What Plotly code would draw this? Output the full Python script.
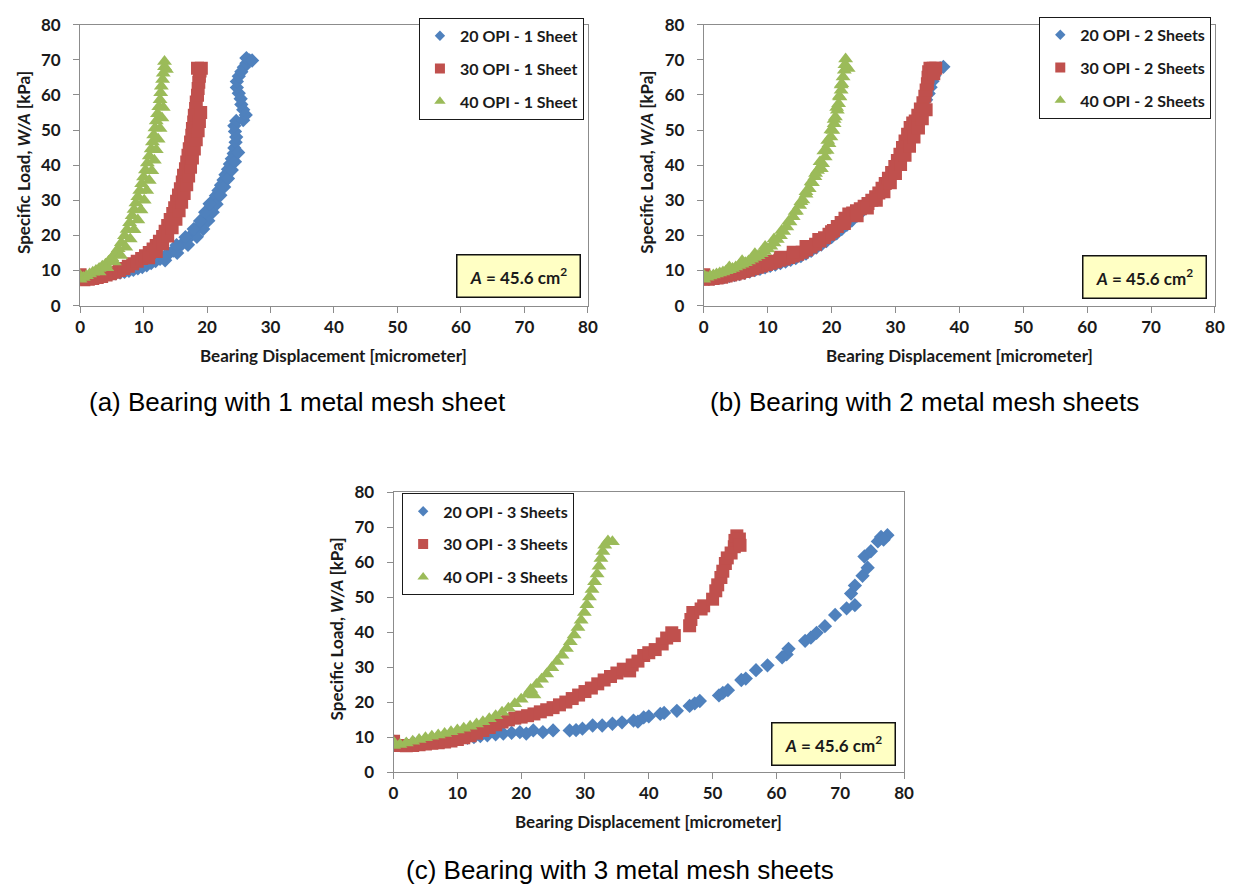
import plotly.graph_objects as go

W, H = 1244, 895

# Load curves: (bearing displacement [um], specific load W/A [kPa])
one_sheet_20 = [
    (0.0, 7.9), (0.7, 8.0), (1.4, 8.1), (2.1, 8.2), (2.8, 8.4), (3.5, 8.6), (4.2, 8.8), (4.9, 9.0),
    (5.6, 9.2), (6.3, 9.4), (7.0, 9.6), (7.7, 9.9), (8.4, 10.2), (9.1, 10.6), (9.8, 11.0), (10.5, 11.5),
    (11.2, 12.1), (11.9, 12.7), (12.6, 13.3), (13.3, 14.0), (14.0, 14.8), (14.7, 15.7), (15.4, 16.6),
    (16.1, 17.6), (16.8, 18.7), (17.4, 19.8), (18.0, 20.9), (18.6, 22.0), (19.1, 23.1), (19.5, 24.4),
    (19.9, 25.7), (20.3, 27.0), (20.7, 28.4), (21.0, 29.8), (21.4, 31.3), (21.8, 32.8), (22.2, 34.3),
    (22.6, 35.8), (22.9, 37.3), (23.3, 38.8), (23.6, 40.3), (23.9, 41.8), (24.2, 43.3), (24.3, 44.9),
    (24.5, 46.5), (24.6, 48.0), (24.4, 49.6), (24.3, 51.2), (24.6, 52.6), (25.7, 52.8), (26.1, 54.3),
    (25.7, 55.8), (25.4, 57.3), (25.3, 58.9), (25.0, 60.5), (24.7, 62.1), (24.7, 63.8), (25.0, 65.3),
    (25.4, 66.6), (25.8, 67.9), (26.2, 69.0), (26.7, 69.8), (26.2, 70.5), (27.1, 69.8),
    (13.4, 12.9), (15.3, 15.0), (17.0, 17.3), (18.4, 19.6), (19.4, 21.8), (20.2, 24.2), (20.9, 26.6),
    (21.5, 28.9), (22.1, 31.4), (22.7, 33.8), (23.3, 36.2), (23.9, 38.6), (24.4, 41.0), (24.9, 43.6),
    (15.2, 17.2), (16.6, 19.5), (17.9, 21.8), (18.9, 24.1), (19.7, 26.6), (20.4, 29.0),
]
one_sheet_30 = [
    (0.0, 7.6), (0.0, 8.8), (0.6, 7.4), (1.3, 7.5), (2.0, 7.7), (2.7, 8.0), (3.4, 8.3), (4.1, 8.7),
    (4.8, 9.1), (5.5, 9.5), (6.2, 10.0), (6.9, 10.6), (7.6, 11.2), (8.3, 11.9), (9.0, 12.6), (9.7, 13.4),
    (10.3, 14.2), (10.9, 15.1), (11.5, 16.1), (12.0, 17.1), (12.5, 18.3), (13.0, 19.7), (13.4, 21.2),
    (13.8, 22.8), (14.2, 24.5), (14.6, 26.2), (14.9, 27.9), (15.2, 29.7), (15.5, 31.5), (15.8, 33.3),
    (16.1, 35.2), (16.3, 37.1), (16.6, 39.0), (16.8, 40.9), (17.0, 42.8), (17.2, 44.7), (17.4, 46.6),
    (17.6, 48.5), (17.7, 50.4), (17.9, 52.3), (18.0, 54.2), (18.2, 56.1), (18.3, 58.0), (18.5, 59.9),
    (18.6, 61.8), (18.7, 63.6), (18.8, 65.3), (18.9, 66.8), (18.5, 67.6), (19.1, 67.6),
    (10.8, 13.6), (12.0, 15.4), (13.0, 17.6), (13.8, 19.8), (14.5, 22.2), (15.1, 24.6), (15.6, 27.0),
    (16.0, 29.4), (16.4, 31.9), (16.8, 34.4), (17.1, 36.9), (17.4, 39.4), (17.7, 42.0), (18.0, 44.6),
    (18.3, 47.2), (18.6, 49.8), (18.8, 52.4), (19.0, 55.0),
]
one_sheet_40 = [
    (0.0, 7.5), (0.0, 8.6), (0.5, 8.0), (1.0, 8.5), (1.5, 9.0), (2.0, 9.5), (2.5, 10.0), (3.0, 10.6),
    (3.5, 11.2), (4.0, 11.8), (4.5, 12.6), (5.0, 13.6), (5.5, 14.8), (6.0, 16.2), (6.5, 17.9), (7.0, 19.9),
    (7.4, 21.7), (7.8, 23.6), (8.2, 25.6), (8.5, 27.4), (8.8, 29.2), (9.1, 31.0), (9.4, 32.8), (9.7, 34.7),
    (10.0, 36.6), (10.3, 38.6), (10.6, 40.6), (10.9, 42.6), (11.2, 44.6), (11.4, 46.6), (11.6, 48.6),
    (11.8, 50.6), (12.0, 52.6), (12.2, 54.6), (12.4, 56.6), (12.6, 58.6), (12.7, 60.6), (12.8, 62.5),
    (13.0, 64.4), (13.1, 66.2), (13.3, 68.0), (13.3, 69.5), (13.6, 67.2),
    (3.0, 9.6), (4.2, 10.8), (5.4, 12.4), (6.4, 14.3), (7.2, 16.6), (7.9, 19.0), (8.5, 21.6), (9.1, 24.4),
    (9.6, 27.2), (10.1, 30.0), (10.5, 32.8), (10.9, 35.6), (11.3, 38.4), (11.7, 41.4), (12.0, 44.4),
    (12.3, 47.4), (12.6, 50.4), (12.9, 53.4), (13.1, 56.4),
]

two_sheets_20 = [
    (0.0, 7.7), (0.8, 7.6), (1.6, 7.7), (2.4, 7.9), (3.2, 8.1), (4.0, 8.4), (4.8, 8.7), (5.6, 9.0),
    (6.4, 9.3), (7.2, 9.7), (8.0, 10.1), (8.8, 10.5), (9.6, 10.9), (10.4, 11.3), (11.2, 11.7), (12.0, 12.1),
    (12.8, 12.5), (13.6, 13.0), (14.4, 13.5), (15.2, 14.1), (16.0, 14.8), (16.8, 15.6), (17.6, 16.5),
    (18.4, 17.4), (19.2, 18.4), (20.0, 19.5), (20.8, 20.6), (21.6, 21.8), (22.4, 23.0), (23.2, 24.3),
    (24.0, 25.6), (24.8, 26.9), (25.6, 28.2), (26.4, 29.6), (27.1, 31.0), (27.8, 32.5), (28.4, 34.0),
    (29.0, 35.6), (29.6, 37.2), (30.2, 38.9), (30.7, 40.6), (31.2, 42.4), (31.6, 44.2), (32.0, 46.0),
    (32.4, 47.8), (32.8, 49.6), (33.2, 51.4), (33.6, 53.2), (34.0, 55.0), (34.4, 56.8), (34.8, 58.6),
    (35.2, 60.4), (35.5, 62.2), (35.8, 63.9), (36.1, 65.5), (36.5, 66.8), (37.0, 67.6), (37.5, 68.0),
]
two_sheets_30 = [
    (0.0, 7.6), (0.0, 8.8), (0.7, 7.5), (1.4, 7.7), (2.1, 7.9), (2.8, 8.1), (3.5, 8.4), (4.2, 8.7),
    (4.9, 9.0), (5.6, 9.3), (6.3, 9.7), (7.0, 10.1), (7.7, 10.5), (8.4, 10.9), (9.1, 11.3), (9.8, 11.7),
    (10.5, 12.1), (11.2, 12.5), (11.9, 12.9), (12.6, 13.3), (13.3, 13.7), (14.0, 14.1), (14.7, 14.6),
    (15.4, 15.2), (16.1, 15.9), (16.8, 16.7), (17.5, 17.5), (18.2, 18.4), (18.9, 19.3), (19.6, 20.3),
    (20.3, 21.4), (20.9, 22.5), (21.5, 23.7), (22.1, 24.9), (22.7, 26.1), (23.3, 26.4), (23.9, 27.0),
    (24.5, 27.6), (25.1, 28.3), (25.7, 29.1), (26.3, 30.0), (26.9, 31.0), (27.4, 32.1), (27.9, 33.4),
    (28.4, 34.8), (28.9, 36.3), (29.4, 37.9), (29.9, 39.6), (30.3, 41.3), (30.7, 43.1), (31.1, 45.0),
    (31.5, 46.9), (31.9, 48.8), (32.3, 50.7), (32.7, 52.0), (33.1, 52.6), (33.5, 54.2), (33.9, 56.0),
    (34.3, 57.8), (34.6, 59.6), (34.8, 61.4), (35.0, 63.2), (35.1, 65.0), (35.2, 66.6), (35.4, 67.6),
    (35.9, 67.6), (36.3, 67.6), (36.0, 66.0),
    (8.0, 11.4), (10.0, 12.6), (12.0, 13.8), (14.0, 15.2), (16.0, 16.8), (18.0, 18.8), (20.0, 21.0),
    (22.0, 23.4), (24.0, 25.6), (25.6, 27.8), (27.0, 30.0), (28.2, 32.4), (29.2, 35.0), (30.0, 37.6),
    (30.8, 40.2), (31.5, 42.8), (32.2, 45.4), (32.9, 48.0), (33.6, 50.6), (34.2, 53.2), (34.8, 55.8),
]
two_sheets_40 = [
    (0.0, 7.5), (0.0, 8.7), (0.5, 8.1), (1.0, 8.4), (1.5, 8.7), (2.0, 9.0), (2.5, 9.3), (3.0, 9.6),
    (3.5, 9.9), (4.0, 10.2), (4.5, 10.6), (5.0, 11.0), (5.5, 11.4), (6.0, 11.8), (6.5, 12.2), (7.0, 12.7),
    (7.5, 13.2), (8.0, 13.7), (8.5, 14.2), (9.0, 14.8), (9.5, 15.4), (10.0, 16.1), (10.5, 16.9),
    (11.0, 17.8), (11.5, 18.8), (12.0, 19.9), (12.5, 21.1), (13.0, 22.4), (13.5, 23.8), (14.0, 25.3),
    (14.5, 26.9), (15.0, 28.5), (15.5, 30.1), (16.0, 31.7), (16.5, 33.3), (17.0, 35.0), (17.4, 36.7),
    (17.8, 38.5), (18.4, 39.0), (18.6, 40.4), (19.0, 42.3), (19.3, 44.2), (19.6, 46.1), (19.9, 48.0),
    (20.2, 49.9), (20.4, 51.8), (20.6, 53.7), (20.9, 55.6), (21.1, 57.5), (21.3, 59.4), (21.5, 61.3),
    (21.6, 63.2), (21.8, 65.1), (22.0, 67.0), (22.1, 68.6), (22.2, 70.2), (22.6, 67.5),
    (4.0, 11.0), (6.0, 12.8), (8.0, 14.8), (9.6, 16.8), (11.0, 19.0), (12.2, 21.4), (13.3, 24.0),
    (14.3, 26.8), (15.2, 29.6), (16.0, 32.4), (16.8, 35.2), (17.5, 37.6), (18.2, 41.0), (18.8, 44.0),
    (19.4, 47.0), (19.9, 50.0), (20.4, 53.0), (20.8, 56.4), (21.2, 59.6), (21.5, 62.8),
]

three_sheets_20 = [
    (0.0, 7.6), (0.0, 8.8), (0.7, 7.7), (2.0, 7.9), (3.2, 8.1), (4.3, 8.2), (5.5, 8.4), (6.7, 8.6),
    (7.9, 8.7), (9.2, 9.2), (10.5, 9.6), (11.6, 9.8), (12.6, 10.0), (13.6, 10.3), (14.7, 10.5),
    (16.0, 10.8), (17.2, 11.0), (18.5, 11.2), (19.8, 11.4), (20.8, 11.0), (21.9, 11.9), (23.4, 11.4),
    (25.0, 11.9), (27.6, 11.9), (28.6, 12.0), (29.6, 12.4), (31.2, 13.3), (32.7, 13.3), (34.3, 13.8),
    (35.8, 14.2), (37.6, 14.7), (38.3, 14.4), (39.2, 15.6), (40.0, 15.9), (41.8, 16.6), (42.4, 16.9),
    (44.4, 17.5), (46.4, 18.9), (47.2, 19.6), (48.0, 20.3), (51.0, 21.9), (51.6, 22.6), (52.4, 23.4),
    (54.5, 26.3), (55.2, 26.7), (56.8, 29.1), (58.6, 30.5), (60.9, 32.8), (61.6, 33.6), (61.9, 35.2),
    (64.5, 37.5), (65.4, 38.4), (66.3, 39.8), (67.6, 41.7), (69.2, 44.9), (71.0, 46.8), (72.3, 47.7),
    (71.7, 51.0), (72.3, 53.3), (73.5, 56.1), (74.3, 58.4), (73.8, 61.6), (74.8, 63.1), (75.9, 65.9),
    (76.4, 67.2), (77.4, 67.7), (76.8, 66.4),
]
three_sheets_30 = [
    (0.0, 7.6), (0.0, 8.8), (1.0, 7.6), (2.0, 7.5), (3.0, 7.6), (4.0, 7.8), (5.0, 8.0), (6.0, 8.2),
    (7.0, 8.4), (8.0, 8.6), (9.0, 8.9), (10.0, 9.3), (11.0, 9.8), (12.0, 10.4), (13.0, 11.1),
    (14.0, 11.9), (15.0, 12.7), (16.0, 13.5), (17.0, 14.3), (18.0, 14.9), (19.0, 15.4), (20.0, 15.7),
    (21.0, 16.1), (22.0, 16.6), (23.0, 17.2), (24.0, 17.8), (25.0, 18.4), (26.0, 19.2), (27.0, 20.0),
    (28.0, 21.0), (29.0, 22.0), (30.0, 23.0), (31.0, 24.0), (32.0, 25.2), (33.0, 26.3), (34.0, 27.3),
    (35.0, 28.3), (36.0, 29.4), (37.0, 28.9), (37.4, 30.6), (38.3, 31.7), (39.2, 33.3), (40.0, 34.1),
    (41.0, 35.0), (42.1, 36.6), (42.8, 38.3), (43.6, 39.8), (44.0, 39.0), (46.4, 41.8), (46.6, 43.6),
    (46.9, 45.6), (48.2, 46.6), (48.6, 47.5), (50.0, 49.4), (50.5, 51.8), (50.8, 53.5), (51.3, 55.6),
    (51.6, 57.4), (52.0, 59.6), (52.3, 61.2), (52.9, 62.6), (53.4, 64.4), (53.5, 66.2), (53.8, 67.5),
    (54.2, 66.6), (54.3, 64.8),
]
three_sheets_40 = [
    (0.0, 7.6), (0.0, 8.6), (1.0, 7.9), (2.0, 8.3), (3.0, 8.8), (4.0, 9.3), (5.0, 9.8), (6.0, 10.2),
    (7.0, 10.6), (8.0, 11.0), (9.0, 11.5), (10.0, 12.0), (11.0, 12.5), (12.0, 13.1), (13.0, 13.7),
    (14.0, 14.4), (15.0, 15.2), (16.0, 16.1), (17.0, 17.1), (18.0, 18.2), (19.0, 19.5), (20.0, 20.8),
    (21.0, 22.2), (22.0, 22.0), (21.5, 23.6), (22.4, 25.0), (23.2, 26.5), (24.0, 28.0), (24.8, 29.8),
    (25.6, 31.6), (26.4, 33.4), (27.1, 35.3), (27.7, 37.2), (28.3, 39.2), (28.9, 41.3), (29.4, 43.4),
    (29.9, 45.6), (30.3, 47.8), (30.7, 50.0), (31.1, 52.2), (31.5, 54.4), (31.9, 56.6), (32.2, 58.8),
    (32.5, 61.0), (32.8, 63.0), (33.1, 64.8), (33.6, 66.0), (34.3, 65.8),
]

opi_labels = ["20 OPI", "30 OPI", "40 OPI"]
axis_ticks = [0, 10, 20, 30, 40, 50, 60, 70, 80]
area_text = "<i>A</i> = 45.6 cm<sup>2</sup>"

COLORS = ["#4F81BD", "#C0504D", "#9BBB59"]
SYMBOLS = ["diamond", "square", "triangle-up"]
LEGEND_SIZES = [8, 10, 10]
FONT = "Lato"
INK = "#1a1a1a"
AXIS_GRAY = "#8C8C8C"


def fx(px):
    return px / W


def fy(py):
    return 1 - py / H


# plot areas in pixels: left, right, top, bottom
panels = [
    dict(series=[one_sheet_20, one_sheet_30, one_sheet_40], suffix="1 Sheet", sizes=[11, 13, 13],
         box=(76, 590, 14, 301.7), legend=dict(x=586, y=7, xanchor="right"),
         note=(520, 271.5), caption="(a) Bearing with 1 metal mesh sheet", cap_xy=(296, 400)),
    dict(series=[two_sheets_20, two_sheets_30, two_sheets_40], suffix="2 Sheets", sizes=[11, 13, 13],
         box=(707.3, 1224.7, 14, 301.7), legend=dict(x=1221, y=6, xanchor="right"),
         note=(1153.5, 272.5), caption="(b) Bearing with 2 metal mesh sheets", cap_xy=(931, 400)),
    dict(series=[three_sheets_20, three_sheets_30, three_sheets_40], suffix="3 Sheets", sizes=[11, 13, 13],
         box=(393.3, 910, 492.7, 779.3), legend=dict(x=402, y=494, xanchor="left"),
         note=(839, 750.5), caption="(c) Bearing with 3 metal mesh sheets", cap_xy=(623, 880)),
]

fig = go.Figure()
annotations = []
layout = {}

for i, p in enumerate(panels):
    n = "" if i == 0 else str(i + 1)
    leg = "legend" if i == 0 else f"legend{i + 1}"
    for k, pts in enumerate(p["series"]):
        name = f"{opi_labels[k]} - {p['suffix']}"
        fig.add_trace(go.Scatter(
            x=[v[0] for v in pts], y=[v[1] for v in pts],
            mode="markers", name=name, showlegend=False,
            marker=dict(symbol=SYMBOLS[k], size=p["sizes"][k], color=COLORS[k], line=dict(width=0)),
            xaxis=f"x{n}", yaxis=f"y{n}", legendgroup=f"g{i}{k}",
        ))
        # legend key with the smaller symbol used in the key box
        fig.add_trace(go.Scatter(
            x=[None], y=[None], mode="markers", name=name, showlegend=True,
            marker=dict(symbol=SYMBOLS[k], size=LEGEND_SIZES[k], color=COLORS[k], line=dict(width=0)),
            xaxis=f"x{n}", yaxis=f"y{n}", legend=leg, legendgroup=f"g{i}{k}",
        ))

    l, r, t, b = p["box"]
    common = dict(range=[0, 80], tickvals=axis_ticks, ticks="outside", ticklen=6,
                  tickcolor=AXIS_GRAY, tickwidth=1, showline=True, linecolor=AXIS_GRAY,
                  linewidth=1, mirror=True, showgrid=False, zeroline=False,
                  tickfont=dict(family=FONT, size=17, color=INK, weight="bold"))
    layout[f"xaxis{n}"] = dict(domain=[fx(l), fx(r)], anchor=f"y{n}", ticklabelstandoff=0, **common)
    layout[f"yaxis{n}"] = dict(domain=[fy(b), fy(t)], anchor=f"x{n}", ticklabelstandoff=9, **common)

    lg = p["legend"]
    layout[leg] = dict(x=fx(lg["x"]), y=fy(lg["y"]), xanchor=lg["xanchor"], yanchor="top",
                       bgcolor="white", bordercolor=INK, borderwidth=1,
                       tracegroupgap=9, itemwidth=30,
                       font=dict(family=FONT, size=16, color=INK, weight="bold"))

    # axis titles
    annotations.append(dict(x=fx((l + r) / 2), y=fy(b + 51), xref="paper", yref="paper",
                            text="Bearing Displacement [micrometer]", showarrow=False,
                            font=dict(family=FONT, size=17, color=INK, weight="bold"),
                            xanchor="center", yanchor="middle"))
    annotations.append(dict(x=fx(l - 58), y=fy((t + b) / 2 - 3), xref="paper", yref="paper",
                            text="Specific Load, <i>W/A</i> [kPa]", showarrow=False, textangle=-90,
                            font=dict(family=FONT, size=17, color=INK, weight="bold"),
                            xanchor="center", yanchor="middle"))
    # bearing area note
    nx, ny = p["note"]
    annotations.append(dict(x=fx(nx), y=fy(ny), xref="paper", yref="paper", text=area_text,
                            showarrow=False, bgcolor="#FFFFC4", bordercolor="#111111",
                            borderwidth=1.5, borderpad=0, width=122, height=41,
                            font=dict(family=FONT, size=17, color=INK, weight="bold"),
                            xanchor="center", yanchor="middle"))
    # sub-figure caption
    cx, cy = p["cap_xy"]
    annotations.append(dict(x=fx(cx), y=fy(cy), xref="paper", yref="paper", text=p["caption"],
                            showarrow=False, font=dict(family="Liberation Sans", size=26, color="black"),
                            xanchor="center", yanchor="middle"))

fig.update_layout(width=W, height=H, margin=dict(l=0, r=0, t=0, b=0),
                  paper_bgcolor="white", plot_bgcolor="white", showlegend=True,
                  annotations=annotations, **layout)

fig.write_html("out.html")
